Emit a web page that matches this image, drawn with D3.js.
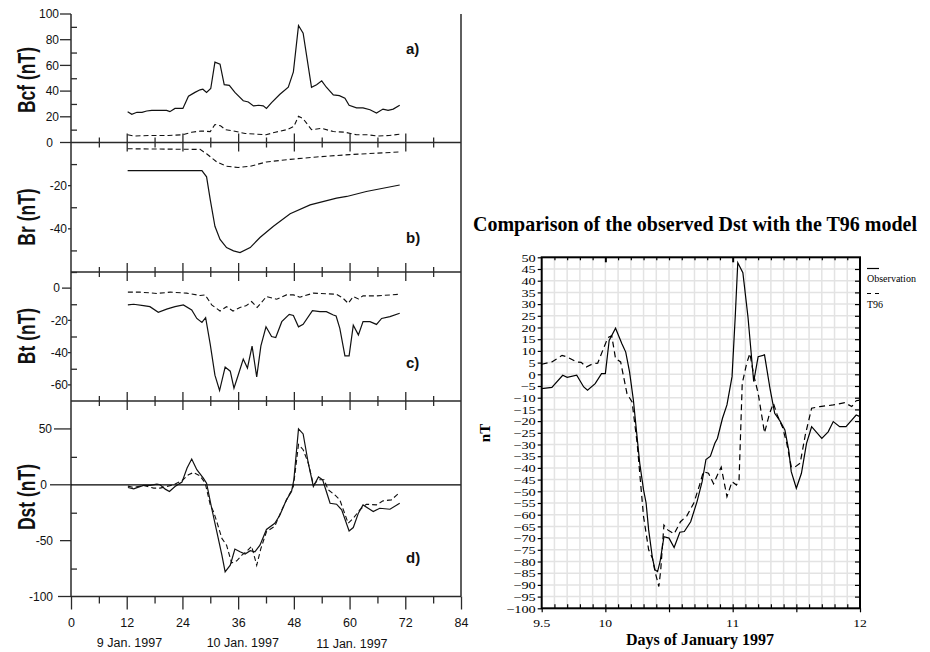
<!DOCTYPE html>
<html><head><meta charset="utf-8">
<script src="https://cdn.jsdelivr.net/npm/d3@7"></script>
<style>body{margin:0;background:#fff} svg{display:block}</style>
</head><body>
<svg id="c" width="930" height="652"></svg>
<script>
// ---------- LEFT FIGURE DATA (hour since 8 Jan 1997 00 UT, nT) ----------
const hourMajorTicks = [0, 12, 24, 36, 48, 60, 72, 84];
const hourMinorTicks = [6, 18, 30, 42, 54, 66, 78];
const dateLabels = ["9 Jan. 1997", "10 Jan. 1997", "11 Jan. 1997"];
const dateLabelHours = [12.6, 37, 60.5];

const bcfTicks = [0, 20, 40, 60, 80, 100];
const brTicks = [-20, -40];
const btTicks = [0, -20, -40, -60];
const dstTicks = [50, 0, -50, -100];

const bcfObs = [[12.2,24],[13.1,22],[14.2,23.5],[15.3,23.5],[16.3,24.5],[17.4,25],[20.6,25],[21.3,24],[22.4,26.5],[24.1,26.5],[25.3,36],[26.7,39],[27.8,41],[28.4,41.5],[29.2,39],[30.1,42],[31.0,62.5],[32.1,61],[33.0,45],[34.1,44.5],[35.3,39],[37.1,32.5],[38.2,31.5],[39.3,28.5],[40.4,29],[41.4,28.5],[42.1,26.5],[43.2,31],[45.0,37.5],[46.8,43],[47.9,55],[49.0,91],[50.0,85],[51.8,43],[52.9,45],[54.0,48],[55.0,43],[56.5,37],[57.8,36.5],[59.0,34.5],[59.9,29],[61.5,27],[62.9,27],[64.4,25.5],[65.8,23],[67.2,26],[68.3,25],[69.4,26],[70.8,29]];
const bcfMod = [[12.2,6],[13.5,5],[17,5.5],[21,5.5],[24,6],[26,8],[28,9],[30,8.5],[31,14],[32.2,13],[33.3,10],[35,9],[37.5,7],[40,6.5],[42,6],[44,8],[46.5,10],[48,12.5],[49,20.5],[50,18.5],[51.8,10],[54,11],[56.5,8.5],[59,8],[61.5,6],[64,6],[66,5],[68.5,5.5],[71,6.5]];

const brObs = [[12.2,-13],[28.2,-13],[29.2,-15.9],[30,-26.6],[31,-38.8],[32.1,-44.9],[33.5,-48.7],[35,-50.2],[36.4,-51],[38.6,-48.7],[40.7,-44],[43.6,-38.8],[47.2,-33],[51.5,-28.9],[57.2,-25.8],[59.4,-25],[63.6,-22.7],[70.8,-19.7]];
const brMod = [[12.2,-2.9],[27.8,-3.2],[29.2,-5.2],[31.4,-9],[33.5,-11],[36,-11.6],[38.6,-11],[42.1,-9],[47.2,-7.8],[52.9,-6.7],[60,-5.6],[70.8,-4.4]];

const btObs = [[12.25,-10.4],[13.5,-10],[15.6,-10.8],[17.0,-11.5],[18.8,-15],[20.6,-13],[22.4,-11.5],[24.2,-10.4],[26.0,-13.5],[27.1,-18.8],[28.2,-21.3],[29.0,-18.3],[30.0,-35],[31.0,-54],[32.0,-63.5],[33.2,-49],[34.3,-51.5],[35.1,-62],[36.0,-54],[37.1,-44],[38.0,-49.6],[39.0,-36],[40.0,-55],[40.9,-35.8],[42.0,-24],[43.2,-30],[44.1,-30.6],[45.4,-20.8],[47.0,-16.3],[47.9,-17],[49.0,-24],[50.0,-22.5],[52.0,-14],[53.6,-14.6],[55.0,-14.6],[56.5,-16.7],[57.1,-17.3],[57.9,-25],[59.0,-42],[59.9,-42],[60.8,-23],[61.9,-29],[62.9,-20.8],[64.4,-20.8],[65.8,-22.5],[66.9,-18.8],[68.7,-17.7],[70.8,-15.6]];
const btMod = [[12.25,-2.5],[14.9,-2.5],[18.5,-3.3],[21.4,-2.5],[24.9,-3.1],[27.8,-4.6],[28.9,-4.2],[30.3,-10.4],[32.1,-14.2],[33.5,-11.5],[34.9,-14.2],[36.4,-12],[37.8,-10.8],[38.9,-8.3],[40.1,-12],[42.1,-5.2],[44.3,-6.9],[46.4,-4.2],[47.9,-4.2],[49.3,-5.6],[52.2,-3.1],[57.2,-3.8],[58.6,-6.3],[59.7,-9.4],[60.8,-5.2],[61.9,-6.7],[62.9,-4.8],[65.8,-4.8],[70.8,-3.8]];

const dstObsH = [[12.25,-2.4],[13.5,-3.6],[15.6,-0.6],[17.0,-0.6],[18.5,0.6],[19.2,0],[20.3,-3.9],[21.2,-6],[22.4,-1.5],[23.9,2.4],[25.0,15],[26.0,23],[27.1,13.5],[28.5,6],[29.2,1.5],[30.3,-21],[31.4,-42],[32.5,-63],[33.2,-78],[34.3,-72],[35.3,-57.5],[36.4,-60],[37.5,-62],[38.6,-59],[39.6,-60],[40.7,-54],[42.1,-40],[43.9,-34.4],[45.0,-27],[46.4,-13.5],[47.5,-6],[48.0,4.5],[49.0,50],[50.0,45.5],[51.1,19.5],[52.2,-1.5],[53.3,7],[54.2,4.5],[55.0,-6],[55.8,-16.5],[57.2,-17.4],[58.3,-22.5],[59.9,-41.3],[60.8,-38.3],[61.9,-25.4],[62.9,-18],[65.1,-24],[66.5,-21],[68.7,-21.9],[70.8,-16.5]];
const dstModH = [[12.25,-1.2],[13.5,-2.4],[15.6,-0.6],[17.8,-3],[19.2,-3],[20.6,-1.5],[22.1,0],[23.9,3.6],[25.3,9],[26.4,11],[27.8,8],[28.9,1.5],[30.0,-18],[30.7,-24],[31.4,-33],[32.5,-48],[33.5,-54],[34.6,-70],[35.7,-68],[36.8,-63],[38.0,-59],[38.9,-55],[40.0,-72],[40.9,-57],[42.1,-42],[43.9,-37],[45.4,-22.5],[46.8,-10.5],[47.9,-1.5],[49.0,36],[50.0,31.4],[51.1,19.5],[52.2,0],[53.3,4.5],[54.5,4.5],[55.4,-4.5],[56.8,-9],[57.9,-13.5],[59.7,-34.4],[60.8,-30],[62.2,-22.5],[63.6,-17.4],[65.8,-18],[67.2,-14.4],[69.0,-13.5],[70.8,-6.9]];

// ---------- RIGHT FIGURE DATA (day of January 1997, nT) ----------
const dayLabelTicks = [9.5, 10, 11, 12];
const dstObservation = [[9.5,-6.1],[9.58,-5.6],[9.665,-0.4],[9.70,-1.3],[9.775,-0.4],[9.83,-5.4],[9.86,-6.8],[9.92,-4],[9.97,0.3],[10.0,0.3],[10.03,14.5],[10.08,19.7],[10.13,13.1],[10.16,9.5],[10.19,1],[10.22,-11],[10.27,-38],[10.30,-49.4],[10.32,-55],[10.34,-66.5],[10.37,-78.6],[10.39,-83.6],[10.41,-84.3],[10.43,-80],[10.46,-69.4],[10.50,-70],[10.54,-74],[10.585,-67.5],[10.62,-67.2],[10.67,-63],[10.72,-54.4],[10.76,-45.9],[10.79,-36.4],[10.825,-35],[10.86,-29.5],[10.88,-27.4],[10.92,-18.8],[10.955,-13.1],[10.995,-1],[11.02,24.6],[11.04,47.7],[11.08,43.4],[11.12,24.6],[11.165,-3.1],[11.20,7.5],[11.25,8.3],[11.295,-6.7],[11.33,-16.7],[11.37,-19.8],[11.41,-23.8],[11.44,-32.4],[11.46,-41.6],[11.50,-48.7],[11.54,-42.3],[11.58,-29.5],[11.62,-22.4],[11.70,-27.4],[11.75,-24.6],[11.79,-20.2],[11.84,-22.4],[11.89,-22.4],[11.935,-19.6],[11.97,-17.4],[12.0,-18.1]];
const dstT96 = [[9.5,4.3],[9.58,5.3],[9.66,8.1],[9.70,7.4],[9.775,5.3],[9.81,5.1],[9.85,3.1],[9.905,4.6],[9.94,4.8],[9.98,10.3],[10.02,15.7],[10.05,16.5],[10.08,6.7],[10.12,5.3],[10.17,-8.3],[10.21,-11.8],[10.25,-29.6],[10.27,-42.3],[10.30,-60.8],[10.34,-75],[10.37,-78.6],[10.39,-84.3],[10.42,-90.7],[10.435,-83.6],[10.46,-64.4],[10.49,-66.5],[10.54,-68.2],[10.59,-63],[10.64,-60.5],[10.695,-55],[10.74,-47.3],[10.77,-41.6],[10.81,-42.3],[10.85,-46.8],[10.88,-43],[10.91,-39.7],[10.955,-52.3],[10.995,-45.9],[11.03,-47.3],[11.05,-45.2],[11.075,-3.9],[11.11,4.7],[11.135,8.9],[11.165,-0.3],[11.20,-8.1],[11.25,-25],[11.29,-16.7],[11.32,-12.4],[11.35,-17.4],[11.39,-22.4],[11.425,-29.5],[11.46,-39.5],[11.48,-40],[11.53,-38],[11.57,-26],[11.62,-14.5],[11.685,-13.8],[11.79,-13.1],[11.88,-12.1],[11.935,-13.8],[11.97,-11.3],[12.0,-11]];

const svg = d3.select('#c');
const SANS = "'Liberation Sans', Arial, sans-serif";
const SERIF = "'Liberation Serif', 'Times New Roman', serif";

// ================= LEFT FIGURE =================
const XL0 = 71, XL1 = 461, YBOT = 596.5;
const xL = d3.scaleLinear().domain([0, 84]).range([XL0, XL1]);
// layout per panel: labelEnd = right edge of each tick label, tickFrom = start x of outward tick
const panels = [
  {title:'Bcf (nT)', letter:'a)', domain:[0,100], top:14, bottom:142.5, major:bcfTicks, labelEnd:[53,59,59,59,59,59], tickFrom:[60,60,60,60,60,60], minor:[10,30,50,70,90], obs:bcfObs, mod:bcfMod, titleY:80, letterY:54, hasTop:false},
  {title:'Br (nT)', letter:'b)', domain:[-60,0], top:142.5, bottom:272, major:brTicks, labelEnd:[67,67], tickFrom:[68,68], minor:[-10,-30,-50], obs:brObs, mod:brMod, titleY:217, letterY:243, hasTop:true},
  {title:'Bt (nT)', letter:'c)', domain:[-70,10], top:272, bottom:401, major:btTicks, labelEnd:[60,68,68,68], tickFrom:[62,68,68,68], minor:[10,-10,-30,-50], obs:btObs, mod:btMod, titleY:336, letterY:368, hasTop:true},
  {title:'Dst (nT)', letter:'d)', domain:[-100,75], top:401, bottom:YBOT, major:dstTicks, labelEnd:[52,47,53,53], tickFrom:[54,50,60,58], minor:[25,-25,-75], obs:dstObsH, mod:dstModH, titleY:497, letterY:563, hasTop:true, zero:true}
];
const frameColor = '#2a2a2a';
panels.forEach((p, i) => {
  const y = d3.scaleLinear().domain(p.domain).range([p.bottom, p.top]);
  const g = svg.append('g');
  // major ticks + labels
  g.append('g').selectAll('line').data(p.major).join('line')
    .attr('x1', (d, k) => p.tickFrom[k]).attr('x2', XL0).attr('y1', d => y(d)).attr('y2', d => y(d))
    .attr('stroke', frameColor).attr('stroke-width', 1.3);
  g.append('g').selectAll('text').data(p.major).join('text')
    .attr('x', (d, k) => p.labelEnd[k]).attr('y', d => y(d)).attr('dy', '0.36em')
    .attr('text-anchor', 'end').attr('font-family', SANS).attr('font-size', 12).attr('fill', '#111')
    .text(d => String(d));
  // minor ticks inward
  const axm = g.append('g').attr('transform', `translate(${XL0},0)`)
    .call(d3.axisRight(y).tickValues(p.minor).tickSize(6).tickFormat(''));
  axm.select('.domain').remove();
  axm.selectAll('line').attr('stroke', frameColor).attr('stroke-width', 1.3);
  g.append('line').attr('x1', XL0).attr('x2', XL0).attr('y1', p.top).attr('y2', p.bottom)
    .attr('stroke', frameColor).attr('stroke-width', 1.5);
  if (i < panels.length - 1) {
    [[hourMajorTicks.slice(1,-1), 9], [hourMinorTicks, 5]].forEach(([vals, len]) => {
      const a = g.append('g').attr('transform', `translate(0,${p.bottom})`)
        .call(d3.axisTop(xL).tickValues(vals).tickSize(len).tickFormat(''));
      a.select('.domain').remove();
      a.selectAll('line').attr('stroke', frameColor).attr('stroke-width', 1.3);
    });
    g.append('line').attr('x1', XL0).attr('x2', XL1).attr('y1', p.bottom).attr('y2', p.bottom)
      .attr('stroke', frameColor).attr('stroke-width', 1.5);
  }
  if (p.hasTop) {
    [[hourMajorTicks.slice(1,-1), 9], [hourMinorTicks, 5]].forEach(([vals, len]) => {
      const a = g.append('g').attr('transform', `translate(0,${p.top})`)
        .call(d3.axisBottom(xL).tickValues(vals).tickSize(len).tickFormat(''));
      a.select('.domain').remove();
      a.selectAll('line').attr('stroke', frameColor).attr('stroke-width', 1.3);
    });
  }
  if (p.zero) {
    g.append('line').attr('x1', XL0).attr('x2', XL1).attr('y1', y(0)).attr('y2', y(0))
      .attr('stroke', '#000').attr('stroke-width', 1.2);
  }
  const line = d3.line().x(d => xL(d[0])).y(d => y(d[1]));
  g.append('path').datum(p.mod).attr('d', line).attr('fill', 'none').attr('stroke', '#111')
    .attr('stroke-width', 1.1).attr('stroke-dasharray', '5,3');
  g.append('path').datum(p.obs).attr('d', line).attr('fill', 'none').attr('stroke', '#111')
    .attr('stroke-width', 1.2);
  // axis title: tall narrow bold glyphs
  g.append('text').attr('transform', `translate(35,${p.titleY}) rotate(-90) scale(1,1.35)`)
    .attr('text-anchor', 'middle').attr('font-family', SANS).attr('font-weight', 'bold')
    .attr('font-size', 17.5).attr('fill', '#111').text(p.title);
  g.append('text').attr('x', 406).attr('y', p.letterY).attr('font-family', SANS)
    .attr('font-weight', 'bold').attr('font-size', 15).attr('fill', '#111').text(p.letter);
});
svg.append('line').attr('x1', XL1).attr('x2', XL1).attr('y1', 14).attr('y2', YBOT)
  .attr('stroke', frameColor).attr('stroke-width', 1.5);
{
  const a = svg.append('g').attr('transform', `translate(0,${YBOT})`)
    .call(d3.axisBottom(xL).tickValues(hourMajorTicks).tickSize(13).tickPadding(9).tickFormat(d => String(d)));
  a.select('.domain').remove();
  a.selectAll('line').attr('stroke', frameColor).attr('stroke-width', 1.3);
  a.selectAll('text').attr('font-family', SANS).attr('font-size', 12.5).attr('fill', '#111');
  const b = svg.append('g').attr('transform', `translate(0,${YBOT})`)
    .call(d3.axisBottom(xL).tickValues(hourMinorTicks).tickSize(7).tickFormat(''));
  b.select('.domain').remove();
  b.selectAll('line').attr('stroke', frameColor).attr('stroke-width', 1.3);
  svg.append('line').attr('x1', XL0).attr('x2', XL1).attr('y1', YBOT).attr('y2', YBOT)
    .attr('stroke', frameColor).attr('stroke-width', 1.5);
  svg.append('g').selectAll('text').data(dateLabels).join('text')
    .attr('x', (d, i) => xL(dateLabelHours[i])).attr('y', (d, i) => i === 2 ? 648 : 646.5)
    .attr('text-anchor', 'middle').attr('font-family', SANS).attr('font-size', 12.5).attr('fill', '#111')
    .text(d => d);
}

// ================= RIGHT FIGURE =================
const XR0 = 541.7, XR1 = 860, YR0 = 257.3, YR1 = 608.3;
const xR = d3.scaleLinear().domain([9.5, 12]).range([XR0, XR1]);
const yR = d3.scaleLinear().domain([-100, 50]).range([YR1, YR0]);
const gR = svg.append('g');
const tenths = d3.range(95, 121).map(i => i / 10);
const fives = d3.range(-100, 51, 5);
gR.append('g').selectAll('line').data(tenths.slice(1, -1)).join('line')
  .attr('x1', d => xR(d)).attr('x2', d => xR(d)).attr('y1', YR0).attr('y2', YR1)
  .attr('stroke', '#e3e3e3').attr('stroke-width', 1.5);
gR.append('g').selectAll('line').data(fives.slice(1, -1)).join('line')
  .attr('x1', XR0).attr('x2', XR1).attr('y1', d => yR(d)).attr('y2', d => yR(d))
  .attr('stroke', '#e3e3e3').attr('stroke-width', 1.5);
const lineR = d3.line().x(d => xR(d[0])).y(d => yR(d[1]));
gR.append('path').datum(dstT96).attr('d', lineR).attr('fill', 'none').attr('stroke', '#000')
  .attr('stroke-width', 1.2).attr('stroke-dasharray', '6,4');
gR.append('path').datum(dstObservation).attr('d', lineR).attr('fill', 'none').attr('stroke', '#000')
  .attr('stroke-width', 1.2);
gR.append('rect').attr('x', XR0).attr('y', YR0).attr('width', XR1 - XR0).attr('height', YR1 - YR0)
  .attr('fill', 'none').attr('stroke', '#000').attr('stroke-width', 2);
{
  const a = gR.append('g').attr('transform', `translate(${XR0},0)`)
    .call(d3.axisLeft(yR).tickValues(fives).tickSize(4).tickPadding(2));
  a.select('.domain').remove();
  a.selectAll('line').attr('stroke', '#000').attr('stroke-width', 1.2);
  a.selectAll('text').attr('font-family', SERIF).attr('font-size', 11).attr('fill', '#000')
    .attr('x', -6 / 1.3).attr('dy', '0.34em').attr('transform', 'scale(1.3,1)');
  const r = gR.append('g').attr('transform', `translate(${XR1},0)`)
    .call(d3.axisLeft(yR).tickValues(fives.slice(1, -1)).tickSize(5).tickFormat(''));
  r.select('.domain').remove();
  r.selectAll('line').attr('stroke', '#000').attr('stroke-width', 1.2);
  const t1 = gR.append('g').attr('transform', `translate(0,${YR0})`)
    .call(d3.axisBottom(xR).tickValues(tenths.slice(1, -1).filter(d => d !== 10 && d !== 11)).tickSize(3).tickFormat(''));
  t1.select('.domain').remove();
  t1.selectAll('line').attr('stroke', '#000').attr('stroke-width', 1.2);
  const t2 = gR.append('g').attr('transform', `translate(0,${YR0})`)
    .call(d3.axisBottom(xR).tickValues([10, 11]).tickSize(5).tickFormat(''));
  t2.select('.domain').remove();
  t2.selectAll('line').attr('stroke', '#000').attr('stroke-width', 2);
  const b1 = gR.append('g').attr('transform', `translate(0,${YR1})`)
    .call(d3.axisTop(xR).tickValues(tenths.slice(1, -1)).tickSize(4).tickFormat(''));
  b1.select('.domain').remove();
  b1.selectAll('line').attr('stroke', '#000').attr('stroke-width', 1.2);
  const b2 = gR.append('g').attr('transform', `translate(0,${YR1})`)
    .call(d3.axisBottom(xR).tickValues([9.5, 10, 10.5, 11, 11.5, 12]).tickSize(4).tickFormat(''));
  b2.select('.domain').remove();
  b2.selectAll('line').attr('stroke', '#000').attr('stroke-width', 1.2);
  gR.append('g').selectAll('text').data(dayLabelTicks).join('text')
    .attr('transform', d => `translate(${xR(d)},${627}) scale(1.3,1)`)
    .attr('text-anchor', 'middle').attr('font-family', SERIF).attr('font-size', 10.5).attr('fill', '#000')
    .text(d => String(d));
}
gR.append('text').attr('x', 695).attr('y', 231).attr('text-anchor', 'middle')
  .attr('font-family', SERIF).attr('font-weight', 'bold').attr('font-size', 20)
  .attr('textLength', 444).attr('lengthAdjust', 'spacingAndGlyphs')
  .text('Comparison of the observed Dst with the T96 model');
gR.append('text').attr('x', 700).attr('y', 645).attr('text-anchor', 'middle')
  .attr('font-family', SERIF).attr('font-weight', 'bold').attr('font-size', 16)
  .text('Days of January 1997');
gR.append('text').attr('transform', 'translate(490,433) rotate(-90)').attr('text-anchor', 'middle')
  .attr('font-family', SERIF).attr('font-weight', 'bold').attr('font-size', 15).text('nT');
gR.append('line').attr('x1', 867).attr('x2', 879).attr('y1', 268.5).attr('y2', 268.5)
  .attr('stroke', '#000').attr('stroke-width', 1.2);
gR.append('text').attr('x', 867).attr('y', 281.5).attr('font-family', SERIF).attr('font-size', 10).text('Observation');
gR.append('line').attr('x1', 867).attr('x2', 879).attr('y1', 293.5).attr('y2', 293.5)
  .attr('stroke', '#000').attr('stroke-width', 1.2).attr('stroke-dasharray', '4,4');
gR.append('text').attr('x', 867).attr('y', 307.5).attr('font-family', SERIF).attr('font-size', 10).text('T96');
</script>
</body></html>
